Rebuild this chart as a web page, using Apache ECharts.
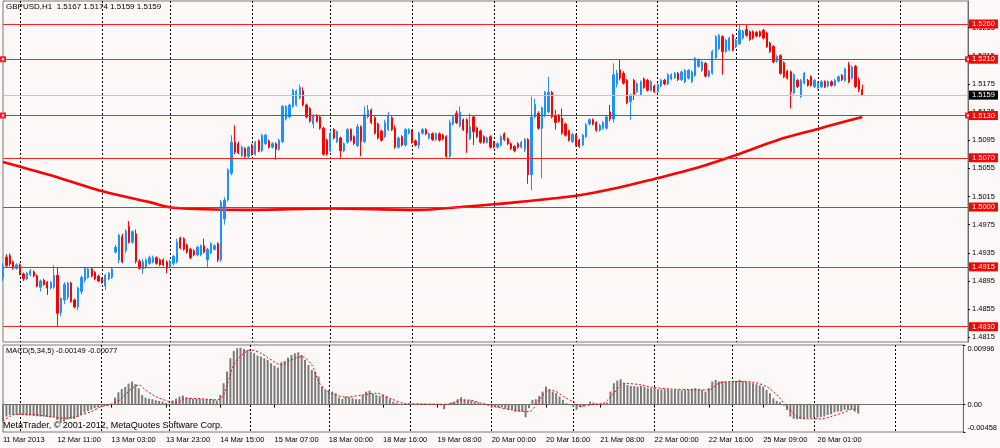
<!DOCTYPE html>
<html><head><meta charset="utf-8">
<script src="https://cdn.jsdelivr.net/npm/echarts@6/dist/echarts.min.js"></script>
<style>html,body{margin:0;padding:0;background:#fbf8f7;}#c{width:1000px;height:448px;}</style>
</head><body><div id="c"></div>
<script>
const symbolName = 'GBPUSD,H1';
// trading hours per day: [day, firstHour, lastHour, missingHours]
const dayHours = [
  ['11 Mar',19,23],['12 Mar',0,23],['13 Mar',0,23,[4,5,6,7]],['14 Mar',0,23],['15 Mar',0,22],
  ['18 Mar',0,23],['19 Mar',0,23],['20 Mar',0,23],['21 Mar',0,23],['22 Mar',0,22],
  ['25 Mar',0,23],['26 Mar',0,23],['27 Mar',0,20]
];
const timeLabels = ['11 Mar 2013','12 Mar 11:00','13 Mar 03:00','13 Mar 23:00','14 Mar 15:00','15 Mar 07:00',
  '18 Mar 00:00','18 Mar 16:00','19 Mar 08:00','20 Mar 00:00','20 Mar 16:00','21 Mar 08:00',
  '22 Mar 00:00','22 Mar 16:00','25 Mar 09:00','26 Mar 01:00'];
const priceTicks = [1.4815,1.4855,1.4895,1.4935,1.4975,1.5015,1.5055,1.5095,1.5135,1.5175,1.5215,1.5255];
const macdTicks = [-0.00458, 0, 0.00996];
const levels = [1.5260, 1.5070, 1.5000, 1.4915, 1.4830];
const markedLevels = [1.5210, 1.5130];
const currentPrice = 1.5159;

const opens = [
1.4900,1.4929,1.4931,1.4922,1.4913,1.4918,1.4905,1.4898,1.4904,1.4908,
1.4902,1.4886,1.4896,1.4893,1.4885,1.4886,1.4903,1.4850,1.4868,1.4872,
1.4892,1.4868,1.4858,1.4880,1.4896,1.4900,1.4912,1.4907,1.4902,1.4898,
1.4888,1.4898,1.4900,1.4936,1.4925,1.4958,1.4938,1.4972,1.4950,1.4962,
1.4923,1.4912,1.4915,1.4920,1.4922,1.4928,1.4925,1.4925,1.4922,1.4915,
1.4920,1.4922,1.4956,1.4955,1.4946,1.4940,1.4938,1.4932,1.4932,1.4945,
1.4925,1.4935,1.4940,1.4948,1.4925,1.4983,1.5010,1.5048,1.5092,1.5090,
1.5073,1.5083,1.5072,1.5088,1.5075,1.5094,1.5080,1.5090,1.5094,1.5085,
1.5090,1.5082,1.5093,1.5125,1.5128,1.5143,1.5145,1.5155,1.5165,1.5145,
1.5140,1.5118,1.5130,1.5128,1.5112,1.5095,1.5080,1.5110,1.5093,1.5098,
1.5080,1.5092,1.5110,1.5100,1.5087,1.5114,1.5093,1.5128,1.5138,1.5127,
1.5118,1.5108,1.5100,1.5110,1.5127,1.5112,1.5085,1.5100,1.5088,1.5105,
1.5108,1.5094,1.5088,1.5105,1.5110,1.5098,1.5104,1.5096,1.5104,1.5102,
1.5100,1.5072,1.5118,1.5133,1.5115,1.5124,1.5124,1.5097,1.5128,1.5112,
1.5108,1.5100,1.5092,1.5100,1.5092,1.5085,1.5088,1.5104,1.5097,1.5090,
1.5086,1.5090,1.5085,1.5082,1.5096,1.5046,1.5128,1.5133,1.5112,1.5130,
1.5135,1.5163,1.5130,1.5130,1.5126,1.5118,1.5108,1.5093,1.5102,1.5095,
1.5088,1.5100,1.5118,1.5124,1.5120,1.5109,1.5112,1.5112,1.5135,1.5125,
1.5175,1.5195,1.5190,1.5180,1.5150,1.5180,1.5164,1.5160,1.5182,1.5180,
1.5166,1.5172,1.5164,1.5172,1.5180,1.5175,1.5182,1.5184,1.5190,1.5181,
1.5178,1.5183,1.5178,1.5187,1.5200,1.5194,1.5204,1.5186,1.5190,1.5212,
1.5225,1.5242,1.5221,1.5223,1.5244,1.5228,1.5232,1.5240,1.5252,1.5249,
1.5249,1.5248,1.5249,1.5251,1.5247,1.5233,1.5228,1.5207,1.5215,1.5205,
1.5193,1.5192,1.5162,1.5180,1.5157,1.5176,1.5180,1.5185,1.5171,1.5169,
1.5171,1.5178,1.5172,1.5178,1.5173,1.5179,1.5187,1.5180,1.5202,1.5183,
1.5200,1.5180,1.5167];
const highs = [
1.4920,1.4933,1.4934,1.4924,1.4920,1.4920,1.4907,1.4908,1.4912,1.4910,
1.4904,1.4897,1.4898,1.4895,1.4895,1.4917,1.4915,1.4872,1.4893,1.4894,
1.4894,1.4870,1.4887,1.4903,1.4915,1.4914,1.4914,1.4909,1.4904,1.4900,
1.4905,1.4908,1.4914,1.4946,1.4962,1.4962,1.4968,1.4980,1.4967,1.4968,
1.4926,1.4926,1.4927,1.4931,1.4931,1.4930,1.4927,1.4927,1.4924,1.4925,
1.4932,1.4955,1.4958,1.4957,1.4948,1.4942,1.4940,1.4945,1.4947,1.4955,
1.4942,1.4950,1.4947,1.4950,1.5010,1.5014,1.5055,1.5102,1.5116,1.5093,
1.5087,1.5085,1.5087,1.5090,1.5094,1.5096,1.5104,1.5104,1.5096,1.5092,
1.5092,1.5097,1.5145,1.5145,1.5147,1.5168,1.5167,1.5174,1.5170,1.5147,
1.5142,1.5132,1.5132,1.5130,1.5114,1.5097,1.5107,1.5112,1.5109,1.5100,
1.5092,1.5112,1.5112,1.5102,1.5118,1.5116,1.5143,1.5145,1.5140,1.5129,
1.5120,1.5110,1.5124,1.5135,1.5129,1.5116,1.5100,1.5102,1.5112,1.5112,
1.5110,1.5096,1.5107,1.5112,1.5112,1.5106,1.5106,1.5106,1.5106,1.5104,
1.5102,1.5124,1.5130,1.5137,1.5143,1.5126,1.5126,1.5133,1.5130,1.5114,
1.5110,1.5102,1.5100,1.5102,1.5094,1.5092,1.5102,1.5106,1.5099,1.5092,
1.5088,1.5092,1.5094,1.5098,1.5098,1.5157,1.5154,1.5136,1.5143,1.5165,
1.5185,1.5165,1.5138,1.5132,1.5140,1.5120,1.5110,1.5105,1.5104,1.5097,
1.5104,1.5119,1.5126,1.5126,1.5122,1.5118,1.5122,1.5130,1.5145,1.5204,
1.5195,1.5209,1.5193,1.5182,1.5161,1.5182,1.5177,1.5180,1.5184,1.5182,
1.5180,1.5174,1.5176,1.5182,1.5182,1.5190,1.5190,1.5192,1.5192,1.5194,
1.5196,1.5196,1.5194,1.5213,1.5211,1.5208,1.5206,1.5195,1.5223,1.5244,
1.5246,1.5244,1.5239,1.5242,1.5246,1.5239,1.5259,1.5252,1.5260,1.5251,
1.5251,1.5250,1.5251,1.5253,1.5249,1.5235,1.5230,1.5216,1.5217,1.5207,
1.5195,1.5194,1.5190,1.5182,1.5182,1.5192,1.5182,1.5187,1.5182,1.5178,
1.5180,1.5180,1.5180,1.5180,1.5182,1.5187,1.5189,1.5198,1.5206,1.5201,
1.5202,1.5184,1.5174];
const lows = [
1.4895,1.4914,1.4916,1.4911,1.4911,1.4903,1.4895,1.4896,1.4902,1.4900,
1.4886,1.4880,1.4888,1.4875,1.4883,1.4884,1.4830,1.4845,1.4862,1.4868,
1.4864,1.4856,1.4854,1.4876,1.4893,1.4898,1.4900,1.4896,1.4893,1.4891,
1.4882,1.4896,1.4898,1.4934,1.4920,1.4920,1.4935,1.4948,1.4948,1.4920,
1.4911,1.4905,1.4912,1.4918,1.4920,1.4918,1.4916,1.4916,1.4906,1.4913,
1.4917,1.4920,1.4940,1.4938,1.4934,1.4926,1.4930,1.4930,1.4930,1.4934,
1.4914,1.4933,1.4938,1.4922,1.4922,1.4975,1.5008,1.5045,1.5075,1.5075,
1.5071,1.5070,1.5070,1.5073,1.5073,1.5078,1.5078,1.5088,1.5083,1.5083,
1.5067,1.5080,1.5091,1.5123,1.5126,1.5141,1.5143,1.5153,1.5143,1.5126,
1.5120,1.5112,1.5120,1.5110,1.5073,1.5073,1.5078,1.5096,1.5091,1.5070,
1.5078,1.5090,1.5093,1.5088,1.5085,1.5072,1.5091,1.5126,1.5118,1.5103,
1.5096,1.5093,1.5098,1.5108,1.5108,1.5083,1.5083,1.5086,1.5086,1.5103,
1.5090,1.5086,1.5083,1.5103,1.5102,1.5096,1.5094,1.5094,1.5093,1.5095,
1.5070,1.5069,1.5116,1.5118,1.5113,1.5108,1.5077,1.5095,1.5088,1.5098,
1.5090,1.5090,1.5090,1.5083,1.5083,1.5083,1.5086,1.5094,1.5088,1.5081,
1.5078,1.5083,1.5083,1.5078,1.5033,1.5024,1.5126,1.5110,1.5041,1.5128,
1.5133,1.5126,1.5110,1.5120,1.5103,1.5100,1.5093,1.5091,1.5086,1.5084,
1.5086,1.5098,1.5116,1.5116,1.5107,1.5107,1.5110,1.5110,1.5122,1.5120,
1.5170,1.5180,1.5174,1.5146,1.5124,1.5152,1.5162,1.5158,1.5168,1.5164,
1.5164,1.5162,1.5162,1.5170,1.5173,1.5173,1.5180,1.5182,1.5179,1.5179,
1.5176,1.5181,1.5176,1.5185,1.5198,1.5192,1.5184,1.5184,1.5188,1.5210,
1.5223,1.5188,1.5219,1.5221,1.5221,1.5226,1.5230,1.5238,1.5242,1.5236,
1.5238,1.5241,1.5241,1.5238,1.5226,1.5219,1.5204,1.5205,1.5188,1.5183,
1.5181,1.5140,1.5160,1.5169,1.5155,1.5174,1.5171,1.5171,1.5169,1.5167,
1.5169,1.5169,1.5170,1.5171,1.5171,1.5177,1.5179,1.5178,1.5176,1.5181,
1.5169,1.5163,1.5159];
const closes = [
1.4916,1.4917,1.4919,1.4913,1.4918,1.4905,1.4898,1.4906,1.4909,1.4902,
1.4888,1.4895,1.4890,1.4885,1.4893,1.4903,1.4849,1.4870,1.4890,1.4892,
1.4866,1.4858,1.4885,1.4900,1.4913,1.4912,1.4902,1.4898,1.4895,1.4893,
1.4903,1.4906,1.4912,1.4943,1.4960,1.4922,1.4966,1.4950,1.4965,1.4923,
1.4913,1.4922,1.4925,1.4928,1.4928,1.4920,1.4918,1.4918,1.4913,1.4923,
1.4930,1.4950,1.4942,1.4940,1.4936,1.4928,1.4932,1.4943,1.4945,1.4936,
1.4940,1.4948,1.4945,1.4925,1.5007,1.5010,1.5053,1.5092,1.5078,1.5077,
1.5085,1.5072,1.5085,1.5075,1.5092,1.5080,1.5102,1.5102,1.5085,1.5090,
1.5082,1.5095,1.5143,1.5143,1.5145,1.5166,1.5165,1.5170,1.5145,1.5128,
1.5122,1.5130,1.5122,1.5112,1.5075,1.5075,1.5105,1.5098,1.5107,1.5080,
1.5090,1.5110,1.5095,1.5090,1.5114,1.5093,1.5131,1.5138,1.5120,1.5105,
1.5098,1.5095,1.5120,1.5130,1.5110,1.5085,1.5098,1.5088,1.5110,1.5110,
1.5092,1.5088,1.5105,1.5110,1.5104,1.5104,1.5096,1.5104,1.5095,1.5097,
1.5072,1.5120,1.5128,1.5120,1.5135,1.5110,1.5105,1.5114,1.5107,1.5100,
1.5092,1.5092,1.5098,1.5085,1.5085,1.5090,1.5100,1.5096,1.5090,1.5083,
1.5080,1.5085,1.5092,1.5096,1.5046,1.5128,1.5146,1.5112,1.5141,1.5163,
1.5163,1.5128,1.5120,1.5122,1.5105,1.5102,1.5095,1.5103,1.5088,1.5086,
1.5102,1.5117,1.5124,1.5118,1.5109,1.5116,1.5120,1.5128,1.5125,1.5188,
1.5190,1.5183,1.5176,1.5148,1.5159,1.5160,1.5175,1.5178,1.5170,1.5166,
1.5178,1.5164,1.5174,1.5180,1.5175,1.5188,1.5188,1.5190,1.5181,1.5192,
1.5194,1.5194,1.5192,1.5211,1.5209,1.5206,1.5186,1.5193,1.5221,1.5242,
1.5244,1.5221,1.5237,1.5240,1.5223,1.5237,1.5251,1.5250,1.5244,1.5238,
1.5240,1.5243,1.5243,1.5240,1.5228,1.5221,1.5206,1.5214,1.5190,1.5185,
1.5183,1.5164,1.5188,1.5171,1.5180,1.5190,1.5173,1.5173,1.5180,1.5176,
1.5178,1.5171,1.5178,1.5173,1.5180,1.5185,1.5181,1.5196,1.5178,1.5199,
1.5171,1.5167,1.5159];
// moving average read at sample bars: [barIndex, value]
const maPoints = [[0,1.5064],[14,1.5045],[28,1.5024],[43,1.5007],[50,1.4999],[72,1.4996],[96,1.4998],
  [122,1.4996],[134,1.5000],[144,1.5004],[151,1.5007],[168,1.5016],[180,1.5027],[191,1.5040],
  [203,1.5055],[215,1.5074],[227,1.5095],[239,1.5111],[245,1.5119],[252,1.5128]];
const macdHist = [
-0.00284,-0.00200,-0.00172,-0.00172,-0.00172,-0.00172,-0.00178,-0.00184,-0.00184,-0.00190,
-0.00195,-0.00200,-0.00200,-0.00206,-0.00212,-0.00206,-0.00256,-0.00310,-0.00284,-0.00250,
-0.00240,-0.00240,-0.00206,-0.00172,-0.00133,-0.00106,-0.00084,-0.00061,-0.00045,-0.00034,
-0.00022,-0.00017,0.00017,0.00117,0.00206,0.00262,0.00296,0.00351,0.00385,0.00340,
0.00270,0.00160,0.00117,0.00100,0.00090,0.00073,0.00060,0.00050,0.00028,0.00017,
0.00070,0.00100,0.00134,0.00150,0.00120,0.00110,0.00100,0.00100,0.00095,0.00092,
0.00090,0.00090,0.00088,0.00070,0.00162,0.00357,0.00551,0.00775,0.00897,0.00942,
0.00952,0.00930,0.00914,0.00886,0.00858,0.00819,0.00802,0.00775,0.00747,0.00692,
0.00652,0.00618,0.00708,0.00730,0.00786,0.00830,0.00858,0.00875,0.00830,0.00747,
0.00663,0.00580,0.00551,0.00468,0.00300,0.00245,0.00245,0.00217,0.00190,0.00117,
0.00095,0.00134,0.00123,0.00106,0.00090,0.00090,0.00162,0.00217,0.00234,0.00179,
0.00162,0.00145,0.00162,0.00134,0.00090,0.00050,0.00034,0.00012,0.00010,0.00003,
0.00002,0.00012,0.00012,0.00006,0.00012,0.00008,0.00001,0.00001,-0.00002,-0.00012,
-0.00077,-0.00002,0.00034,0.00050,0.00090,0.00123,0.00078,0.00070,0.00070,0.00050,
0.00034,0.00012,0.00001,-0.00012,-0.00045,-0.00045,-0.00050,-0.00045,-0.00067,-0.00084,
-0.00084,-0.00117,-0.00117,-0.00117,-0.00211,-0.00060,0.00079,0.00090,0.00145,0.00217,
0.00300,0.00257,0.00217,0.00190,0.00134,0.00079,0.00023,0.00006,-0.00033,-0.00089,
-0.00045,-0.00033,-0.00005,0.00050,0.00034,0.00023,0.00023,0.00023,0.00034,0.00217,
0.00357,0.00401,0.00424,0.00357,0.00329,0.00312,0.00312,0.00300,0.00312,0.00300,
0.00274,0.00274,0.00290,0.00257,0.00257,0.00257,0.00257,0.00250,0.00250,0.00245,
0.00240,0.00250,0.00245,0.00262,0.00274,0.00262,0.00245,0.00217,0.00274,0.00385,
0.00413,0.00385,0.00396,0.00385,0.00385,0.00385,0.00396,0.00413,0.00396,0.00385,
0.00374,0.00357,0.00340,0.00318,0.00300,0.00245,0.00190,0.00106,0.00062,0.00040,
-0.00017,-0.00089,-0.00200,-0.00239,-0.00245,-0.00239,-0.00239,-0.00228,-0.00228,-0.00217,
-0.00217,-0.00206,-0.00200,-0.00172,-0.00161,-0.00128,-0.00117,-0.00117,-0.00089,-0.00089,
-0.00080,-0.00117,-0.00149];
// signal line read at sample bars: [barIndex, value]
const signalPoints = [[0,-0.00284],[3,-0.00172],[7,-0.00160],[10,-0.00172],[14,-0.00200],[18,-0.00228],
  [21,-0.00210],[23,-0.00172],[26,-0.00117],[29,-0.00034],[32,0.00006],[35,0.00106],[38,0.00273],
  [40,0.00329],[42,0.00245],[45,0.00134],[49,0.00050],[51,0.00030],[54,0.00106],[58,0.00100],
  [63,0.00079],[65,0.00162],[68,0.00663],[71,0.00858],[73,0.00914],[76,0.00858],[79,0.00747],
  [82,0.00663],[85,0.00747],[88,0.00802],[91,0.00663],[93,0.00385],[95,0.00245],[98,0.00162],
  [101,0.00125],[106,0.00162],[110,0.00190],[114,0.00106],[118,0.00023],[123,0.00012],[129,0.00006],
  [132,0.00015],[135,0.00079],[138,0.00070],[141,0.00023],[145,-0.00033],[150,-0.00089],[155,-0.00117],
  [158,0.00079],[161,0.00245],[163,0.00217],[166,0.00106],[168,0.00050],[170,-0.00033],[173,-0.00005],
  [177,0.00023],[180,0.00190],[183,0.00357],[188,0.00329],[191,0.00290],[197,0.00260],[203,0.00250],
  [208,0.00245],[211,0.00357],[216,0.00385],[221,0.00374],[225,0.00300],[228,0.00162],[231,-0.00033],
  [234,-0.00200],[237,-0.00239],[241,-0.00239],[244,-0.00200],[248,-0.00128],[250,-0.00080],[252,-0.00077]];

const categories = [];
dayHours.forEach(function (d) {
  for (let h = d[1]; h <= d[2]; h++) {
    if (d[3] && d[3].indexOf(h) >= 0) continue;
    categories.push(d[0] + ' ' + String(h).padStart(2, '0') + ':00');
  }
});
const catIndex = {};
categories.forEach(function (c, i) { catIndex[c] = i; });
const isDayStart = function (i) { return /00:00$/.test(categories[i]); };
const hasLabel = function (i) { return i % 16 === 0 && i / 16 < timeLabels.length; };

const FONT = '"Liberation Sans", Arial, sans-serif';
const last = opens.length - 1;
const header = symbolName + '  ' + [opens[last], highs[last], lows[last], closes[last]].map(function (v) { return v.toFixed(4); }).join(' ');
const macdHeader = 'MACD(5,34,5) ' + macdHist[last].toFixed(5) + ' ' + signalPoints[signalPoints.length - 1][1].toFixed(5);

const boxLabel = {
  show: true, position: 'end', distance: 1, color: '#fff', backgroundColor: '#ff0000',
  padding: [1, 3, 0, 3], fontSize: 7.5, lineHeight: 8, fontFamily: FONT,
  formatter: function (p) { return Number(p.value).toFixed(4); }
};
const dotted = { color: '#000', type: [2, 2], width: 1 };

const chart = echarts.init(document.getElementById('c'), null, { renderer: 'canvas' });
chart.setOption({
  backgroundColor: '#fbf8f7',
  animation: false,
  textStyle: { fontFamily: FONT },
  grid: [
    { left: 3, top: 1, width: 965, height: 341, show: true, borderColor: '#7a7a7a', borderWidth: 1 },
    { left: 3, top: 345, width: 965, height: 87, show: true, borderColor: '#7a7a7a', borderWidth: 1 }
  ],
  xAxis: [
    { type: 'category', gridIndex: 0, data: categories, boundaryGap: false,
      axisLine: { show: false }, axisTick: { show: false }, axisLabel: { show: false },
      splitLine: { show: true, interval: function (i) { return isDayStart(i); }, lineStyle: dotted } },
    { type: 'category', gridIndex: 1, data: categories, boundaryGap: false,
      axisLine: { show: true, lineStyle: { color: '#6a6a6a' } },
      axisTick: { show: true, length: 3, interval: function (i) { return hasLabel(i); }, lineStyle: { color: '#000' } },
      axisLabel: { show: true, interval: function (i) { return hasLabel(i); }, align: 'left', margin: 4,
        fontSize: 7.5, color: '#000', fontFamily: FONT,
        formatter: function (v) { const i = catIndex[v]; return timeLabels[i / 16] || ''; } },
      splitLine: { show: true, interval: function (i) { return isDayStart(i); }, lineStyle: dotted } }
  ],
  yAxis: [
    { type: 'value', gridIndex: 0, position: 'right', min: 1.48083, max: 1.52927,
      axisLine: { show: true, lineStyle: { color: '#6a6a6a' } },
      axisTick: { show: true, length: 2, customValues: priceTicks, lineStyle: { color: '#000' } },
      axisLabel: { show: true, customValues: priceTicks, margin: 4, fontSize: 7.5, color: '#000', fontFamily: FONT,
        formatter: function (v) { return v.toFixed(4); } },
      splitLine: { show: false } },
    { type: 'value', gridIndex: 1, position: 'right', min: -0.00458, max: 0.00996,
      axisLine: { show: true, lineStyle: { color: '#6a6a6a' } },
      axisTick: { show: true, length: 2, customValues: macdTicks, lineStyle: { color: '#000' } },
      axisLabel: { show: true, customValues: macdTicks, margin: 4, fontSize: 7.5, color: '#000', fontFamily: FONT,
        verticalAlignMaxLabel: 'top', verticalAlignMinLabel: 'bottom',
        formatter: function (v) { return v === 0 ? '0.00' : v.toFixed(5); } },
      splitLine: { show: false } }
  ],
  series: [
    { type: 'line', name: 'MA', xAxisIndex: 0, yAxisIndex: 0, data: maPoints, smooth: 0.3,
      showSymbol: false, silent: true, z: 2, lineStyle: { color: '#ff0000', width: 2.6 },
      markLine: { silent: true, animation: false, precision: 4, symbol: ['emptyRect', 'emptyRect'], symbolSize: 4,
        lineStyle: { color: '#ff2020', width: 1, type: 'solid' }, label: boxLabel,
        emphasis: { disabled: true },
        data: markedLevels.map(function (v) { return { yAxis: v }; }) } },
    { type: 'candlestick', name: 'GBPUSD', xAxisIndex: 0, yAxisIndex: 0, z: 3, silent: true,
      barWidth: 1.8, barMaxWidth: 2,
      data: opens.map(function (o, i) { return [o, closes[i], lows[i], highs[i]]; }),
      itemStyle: { color: '#1e90ff', color0: '#ff0000', borderColor: '#1e90ff', borderColor0: '#ff0000', borderWidth: 1 },
      markLine: { silent: true, animation: false, precision: 4, symbol: 'none',
        lineStyle: { color: '#ff2020', width: 1, type: 'solid' }, label: boxLabel,
        emphasis: { disabled: true },
        data: levels.map(function (v) { return { yAxis: v }; }).concat([
          { yAxis: currentPrice, lineStyle: { color: '#c4c4c4', width: 1, type: 'solid' },
            label: { backgroundColor: '#000', color: '#fff' } }]) } },
    { type: 'bar', name: 'MACD', xAxisIndex: 1, yAxisIndex: 1, data: macdHist, barWidth: 2,
      silent: true, itemStyle: { color: '#7b7b7b' } },
    { type: 'line', name: 'Signal', xAxisIndex: 1, yAxisIndex: 1, data: signalPoints, smooth: 0.3,
      showSymbol: false, silent: true, z: 3, lineStyle: { color: '#ff0000', width: 1, type: [2, 2] } }
  ],
  graphic: [
    { type: 'text', left: 6, top: 3, z: 10, style: { text: header, font: '8px ' + FONT, fill: '#000' } },
    { type: 'text', left: 6, top: 347, z: 10, style: { text: macdHeader, font: '7.5px ' + FONT, fill: '#000' } },
    { type: 'text', left: 3, top: 421, z: 10, style: { text: 'MetaTrader, \u00a9 2001-2012, MetaQuotes Software Corp.', font: '9px ' + FONT, fill: '#000' } }
  ]
});
</script>
</body></html>
